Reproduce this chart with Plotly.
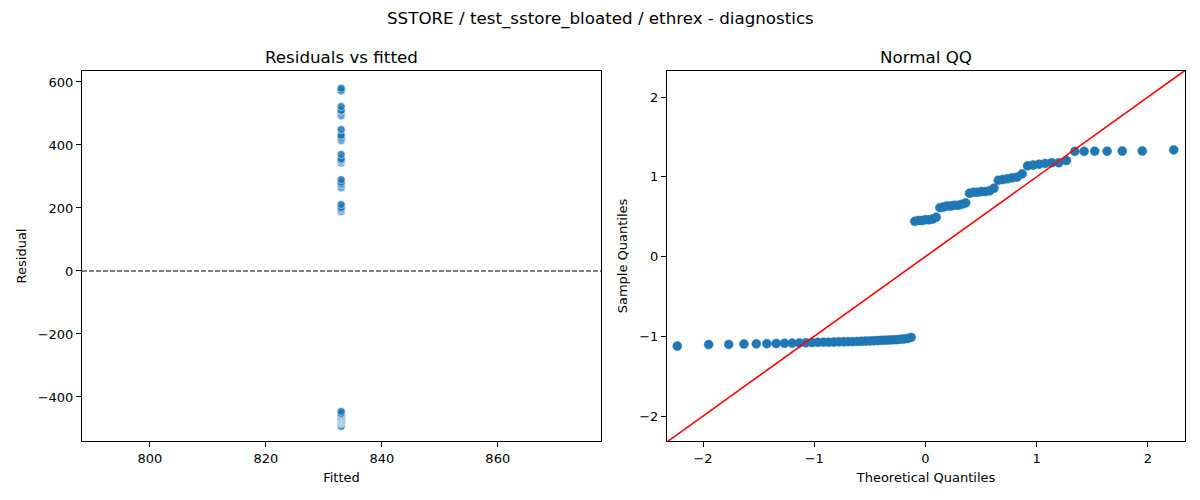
import plotly.graph_objects as go
from statistics import NormalDist, mean, pstdev

# ---- data ----
fitted_value = 833.0
residuals = [
    -493, -485, -484, -482, -481, -480, -479, -478, -477, -476,
    -475, -474, -473, -472, -472, -471, -470, -470, -469, -469,
    -468, -467, -466, -465, -464, -463, -462, -461, -460, -459,
    -458, -456, -454, -452, -446,
    189, 194, 194, 198, 198, 202, 211,
    264, 268, 273, 273, 277, 277, 282, 290,
    343, 348, 348, 352, 352, 356, 370,
    414, 418, 422, 427, 431, 449,
    493, 497, 502, 506, 510, 510, 522,
    572, 572, 573, 573, 574, 574, 580,
]
fitted = [fitted_value] * len(residuals)

left_xticks = [800, 820, 840, 860]
left_yticks = [-400, -200, 0, 200, 400, 600]
qq_ticks = [-2, -1, 0, 1, 2]

# ---- QQ transform (standardize, like statsmodels fit=True) ----
n = len(residuals)
mu = mean(residuals)
sd = pstdev(residuals)
sample_q = sorted((r - mu) / sd for r in residuals)
nd = NormalDist()
theo_q = [nd.inv_cdf(i / (n + 1)) for i in range(1, n + 1)]

FONT = "DejaVu Sans"
BLUE = "#1f77b4"
W, H, OFF = 1200, 500, 8  # page body margin offset


def xd(a, b):
    return [(a - OFF) / W, (b - OFF) / W]


def yd(top, bottom):
    return [1 - (bottom - OFF) / H, 1 - (top - OFF) / H]


LX = xd(82, 601)
RX = xd(667, 1185)
YD = yd(71, 441)

fig = go.Figure()

fig.add_trace(go.Scatter(
    x=fitted, y=residuals, mode="markers",
    marker=dict(color=BLUE, size=8, opacity=0.85,
                line=dict(color="white", width=0.6)),
    xaxis="x", yaxis="y", showlegend=False, hoverinfo="skip"))

fig.add_trace(go.Scatter(
    x=[0, 1], y=[0, 0], mode="lines",
    line=dict(color="black", width=1.1, dash="5px,2px"),
    xaxis="x3", yaxis="y", showlegend=False, hoverinfo="skip"))

fig.add_trace(go.Scatter(
    x=theo_q, y=sample_q, mode="markers",
    marker=dict(color=BLUE, size=9, line=dict(color=BLUE, width=0.5)),
    xaxis="x2", yaxis="y2", showlegend=False, hoverinfo="skip"))

lim = [-2.4, 2.4]
fig.add_trace(go.Scatter(
    x=lim, y=lim, mode="lines",
    line=dict(color="red", width=1.6),
    xaxis="x2", yaxis="y2", showlegend=False, hoverinfo="skip"))

axis_common = dict(
    showline=True, linecolor="black", linewidth=1, mirror=True,
    ticks="outside", ticklen=5, tickwidth=1, tickcolor="black",
    showgrid=False, zeroline=False,
    tickfont=dict(family=FONT, size=13, color="black"),
)

fig.update_layout(
    width=W, height=H,
    margin=dict(l=0, r=0, t=0, b=0),
    paper_bgcolor="white", plot_bgcolor="white",
    font=dict(family=FONT, color="black"),
    xaxis=dict(domain=LX, range=[788.3, 877.8],
               tickvals=left_xticks, anchor="y",
               title=dict(text="Fitted", font=dict(size=13), standoff=8),
               **axis_common),
    yaxis=dict(domain=YD, range=[-539.7, 634.9],
               tickvals=left_yticks, anchor="x",
               title=dict(text="Residual", font=dict(size=13), standoff=8),
               **axis_common),
    xaxis3=dict(domain=LX, range=[0, 1], overlaying="x",
                visible=False, anchor="y"),
    xaxis2=dict(domain=RX, range=[-2.324, 2.333],
                tickvals=qq_ticks, anchor="y2",
                title=dict(text="Theoretical Quantiles", font=dict(size=13), standoff=8),
                **axis_common),
    yaxis2=dict(domain=YD, range=[-2.313, 2.326],
                tickvals=qq_ticks, anchor="x2",
                title=dict(text="Sample Quantiles", font=dict(size=13), standoff=8),
                **axis_common),
    annotations=[
        dict(text="SSTORE / test_sstore_bloated / ethrex - diagnostics",
             x=0.5 - OFF / W, y=1 - (18 - OFF) / H, xref="paper", yref="paper",
             showarrow=False, font=dict(size=16.7, family=FONT),
             xanchor="center", yanchor="middle"),
        dict(text="Residuals vs fitted", x=(LX[0] + LX[1]) / 2,
             y=1 - (57 - OFF) / H, xref="paper", yref="paper", showarrow=False,
             font=dict(size=16.7, family=FONT), xanchor="center", yanchor="middle"),
        dict(text="Normal QQ", x=(RX[0] + RX[1]) / 2,
             y=1 - (57 - OFF) / H, xref="paper", yref="paper", showarrow=False,
             font=dict(size=16.7, family=FONT), xanchor="center", yanchor="middle"),
    ],
)

fig.write_html("out.html")
